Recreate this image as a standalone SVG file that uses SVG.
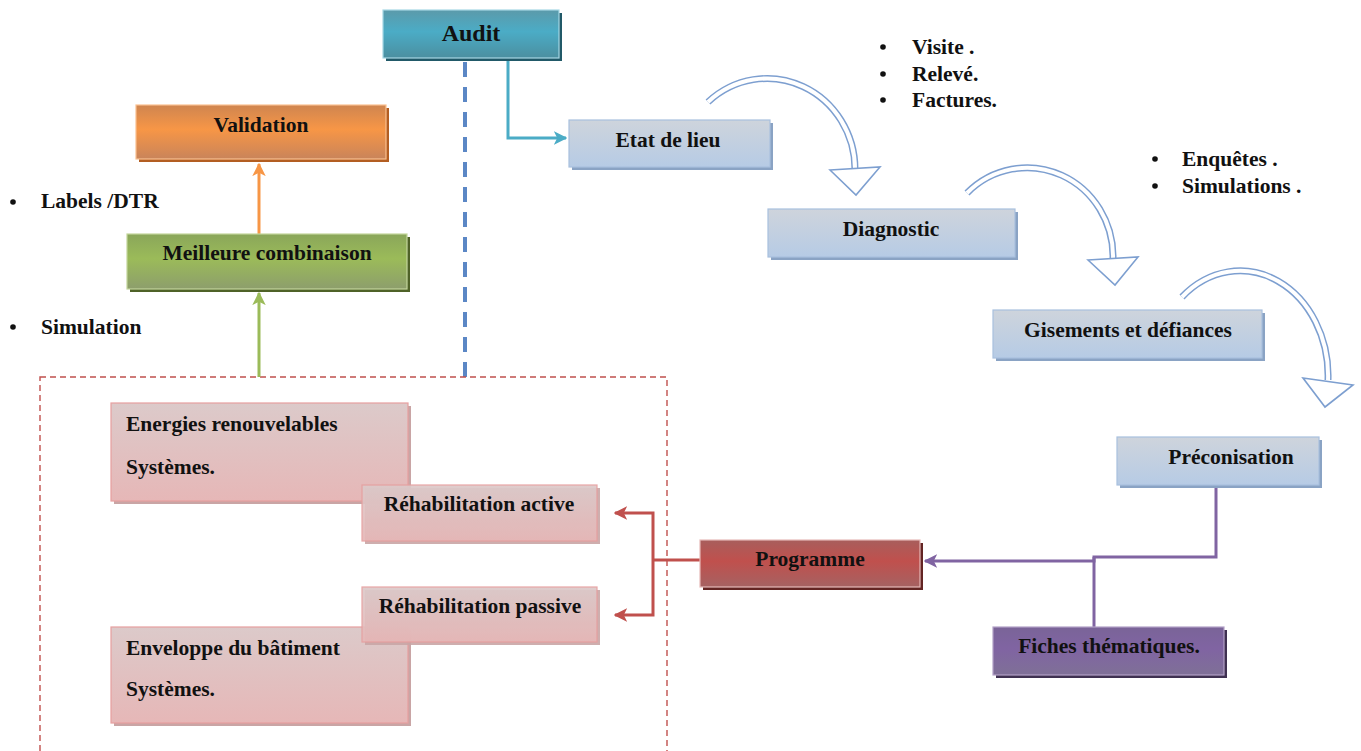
<svg xmlns="http://www.w3.org/2000/svg" width="1361" height="751" viewBox="0 0 1361 751">
<defs>
<style>
text{font-family:"Liberation Serif","Times New Roman",serif;font-weight:bold;font-size:21.5px;fill:#111}
.c{text-anchor:middle}
.arcO{fill:none;stroke:#7d9fd0;stroke-width:7}
.arcI{fill:none;stroke:#fff;stroke-width:4}
.ah{fill:#fff;stroke:#7d9fd0;stroke-width:1.6;stroke-linejoin:miter}
</style>
<linearGradient id="gTeal" x1="0" y1="0" x2="0" y2="1"><stop offset="0" stop-color="#5b9aaa"/><stop offset="0.45" stop-color="#4bacc6"/><stop offset="1" stop-color="#4b8fa0"/></linearGradient>
<linearGradient id="gBlue" x1="0" y1="0" x2="0" y2="1"><stop offset="0" stop-color="#ced4dc"/><stop offset="1" stop-color="#b6cbe5"/></linearGradient>
<linearGradient id="gOrange" x1="0" y1="0" x2="0" y2="1"><stop offset="0" stop-color="#cf8550"/><stop offset="0.45" stop-color="#f79646"/><stop offset="1" stop-color="#c9845a"/></linearGradient>
<linearGradient id="gGreen" x1="0" y1="0" x2="0" y2="1"><stop offset="0" stop-color="#8aa65a"/><stop offset="0.45" stop-color="#9bbb59"/><stop offset="1" stop-color="#8d9e6c"/></linearGradient>
<linearGradient id="gRed" x1="0" y1="0" x2="0" y2="1"><stop offset="0" stop-color="#a85e5c"/><stop offset="0.45" stop-color="#c0504d"/><stop offset="1" stop-color="#a56262"/></linearGradient>
<linearGradient id="gPurple" x1="0" y1="0" x2="0" y2="1"><stop offset="0" stop-color="#7a6498"/><stop offset="0.45" stop-color="#8064a2"/><stop offset="1" stop-color="#7f7097"/></linearGradient>
<linearGradient id="gPink" x1="0" y1="0" x2="0" y2="1"><stop offset="0" stop-color="#dccaca"/><stop offset="1" stop-color="#e6b7b7"/></linearGradient>
<marker id="mTeal" viewBox="0 0 10 10" refX="9" refY="5" markerWidth="4.5" markerHeight="4.5" orient="auto"><path d="M0,0 L10,5 L0,10 L2.5,5 z" fill="#4bacc6"/></marker>
<marker id="mOrange" viewBox="0 0 10 10" refX="9" refY="5" markerWidth="4.5" markerHeight="4.5" orient="auto"><path d="M0,0 L10,5 L0,10 L2.5,5 z" fill="#f79646"/></marker>
<marker id="mGreen" viewBox="0 0 10 10" refX="9" refY="5" markerWidth="4.5" markerHeight="4.5" orient="auto"><path d="M0,0 L10,5 L0,10 L2.5,5 z" fill="#9bbb59"/></marker>
<marker id="mRed" viewBox="0 0 10 10" refX="9" refY="5" markerWidth="4.5" markerHeight="4.5" orient="auto"><path d="M0,0 L10,5 L0,10 L2.5,5 z" fill="#c0504d"/></marker>
<marker id="mPurple" viewBox="0 0 10 10" refX="9" refY="5" markerWidth="4.5" markerHeight="4.5" orient="auto"><path d="M0,0 L10,5 L0,10 L2.5,5 z" fill="#8064a2"/></marker>
</defs>
<rect width="1361" height="751" fill="#fff"/>

<g id="connectors">
<line x1="465" y1="62" x2="465" y2="378" stroke="#5b87c5" stroke-width="4" stroke-dasharray="15 10"/>
<rect x="40" y="377" width="627" height="390" fill="none" stroke="#c0504d" stroke-width="1.4" stroke-dasharray="6 4"/>
<path d="M508,58 V138 H566" fill="none" stroke="#4bacc6" stroke-width="3" marker-end="url(#mTeal)"/>
<path d="M259,234 V164" fill="none" stroke="#f79646" stroke-width="3" marker-end="url(#mOrange)"/>
<path d="M259,377 V293" fill="none" stroke="#9bbb59" stroke-width="3" marker-end="url(#mGreen)"/>
<path d="M700,560 H653" fill="none" stroke="#c0504d" stroke-width="3"/>
<path d="M653,560 V513 H615" fill="none" stroke="#c0504d" stroke-width="3" marker-end="url(#mRed)"/>
<path d="M653,560 V615 H615" fill="none" stroke="#c0504d" stroke-width="3" marker-end="url(#mRed)"/>
<path d="M1216,487 V557 H1094 V561 H925" fill="none" stroke="#8064a2" stroke-width="3" marker-end="url(#mPurple)"/>
<path d="M1094,627 V557" fill="none" stroke="#8064a2" stroke-width="3"/>
<path class="arcO" d="M708,102 A88,91 0 0 1 855,170"/>
<path class="arcI" d="M708,102 A88,91 0 0 1 855,171"/>
<polygon class="ah" points="830,170 880,167 856,195"/>
<path class="arcO" d="M967,193 A86,89 0 0 1 1113,259"/>
<path class="arcI" d="M967,193 A86,89 0 0 1 1113,260"/>
<polygon class="ah" points="1088,260 1138,257 1115,285"/>
<path class="arcO" d="M1182,297 A88,105 0 0 1 1328,380"/>
<path class="arcI" d="M1182,297 A88,105 0 0 1 1328,381"/>
<polygon class="ah" points="1303,378 1353,385 1325,407"/>
</g>

<g id="audit">
<rect x="386" y="13" width="176" height="48" fill="#215968"/>
<rect x="383" y="10" width="176" height="48" fill="url(#gTeal)" stroke="#a6d7e4" stroke-width="1.2"/>
<text class="c" x="471" y="41" style="font-size:24px">Audit</text>
</g>

<g id="etat">
<rect x="572" y="123" width="201" height="47" fill="#8aa3c4"/>
<rect x="569" y="120" width="201" height="47" fill="url(#gBlue)" stroke="#a8c0de" stroke-width="1.2"/>
<text class="c" x="668" y="147">Etat de lieu</text>
</g>

<g id="diagnostic">
<rect x="771" y="212" width="247" height="48" fill="#8aa3c4"/>
<rect x="768" y="209" width="247" height="48" fill="url(#gBlue)" stroke="#a8c0de" stroke-width="1.2"/>
<text class="c" x="891" y="236">Diagnostic</text>
</g>

<g id="gisements">
<rect x="996" y="313" width="269" height="48" fill="#8aa3c4"/>
<rect x="993" y="310" width="269" height="48" fill="url(#gBlue)" stroke="#a8c0de" stroke-width="1.2"/>
<text class="c" x="1128" y="337">Gisements et défiances</text>
</g>

<g id="preconisation">
<rect x="1120" y="440" width="202" height="48" fill="#8aa3c4"/>
<rect x="1117" y="437" width="202" height="48" fill="url(#gBlue)" stroke="#a8c0de" stroke-width="1.2"/>
<text class="c" x="1231" y="464">Préconisation</text>
</g>

<g id="programme">
<rect x="703" y="543" width="220" height="47" fill="#632523"/>
<rect x="700" y="540" width="220" height="47" fill="url(#gRed)" stroke="#e6b9b8" stroke-width="1.2"/>
<text class="c" x="810" y="566">Programme</text>
</g>

<g id="fiches">
<rect x="996" y="630" width="231" height="48" fill="#3f3151"/>
<rect x="993" y="627" width="231" height="48" fill="url(#gPurple)" stroke="#b2a1c7" stroke-width="1.2"/>
<text class="c" x="1109" y="653">Fiches thématiques.</text>
</g>

<g id="validation">
<rect x="139" y="108" width="250" height="54" fill="#b35e22"/>
<rect x="136" y="105" width="250" height="54" fill="url(#gOrange)" stroke="#fac090" stroke-width="1.2"/>
<text class="c" x="261" y="132">Validation</text>
</g>

<g id="meilleure">
<rect x="130" y="237" width="280" height="55" fill="#4f6228"/>
<rect x="127" y="234" width="280" height="55" fill="url(#gGreen)" stroke="#c3d69b" stroke-width="1.2"/>
<text class="c" x="267" y="260">Meilleure combinaison</text>
</g>

<g id="energies">
<rect x="114" y="406" width="297" height="98" fill="#c9a5a5"/>
<rect x="111" y="403" width="297" height="98" fill="url(#gPink)" stroke="#e79f9f" stroke-width="1.2"/>
<text x="126" y="431">Energies renouvelables</text>
<text x="126" y="474">Systèmes.</text>
</g>

<g id="rehab-active">
<rect x="365" y="488" width="235" height="56" fill="#c9a5a5" opacity="0.9"/>
<rect x="362" y="485" width="235" height="56" fill="url(#gPink)" stroke="#e79f9f" stroke-width="1.2" opacity="0.93"/>
<text class="c" x="479" y="511">Réhabilitation active</text>
</g>

<g id="enveloppe">
<rect x="114" y="630" width="297" height="96" fill="#c9a5a5"/>
<rect x="111" y="627" width="297" height="96" fill="url(#gPink)" stroke="#e79f9f" stroke-width="1.2"/>
<text x="126" y="655">Enveloppe du bâtiment</text>
<text x="126" y="696">Systèmes.</text>
</g>

<g id="rehab-passive">
<rect x="365" y="590" width="235" height="55" fill="#c9a5a5" opacity="0.9"/>
<rect x="362" y="587" width="235" height="55" fill="url(#gPink)" stroke="#e79f9f" stroke-width="1.2" opacity="0.93"/>
<text class="c" x="480" y="613">Réhabilitation passive</text>
</g>

<g id="bullets-left">
<circle cx="13" cy="202" r="2.8" fill="#111"/>
<text x="41" y="208">Labels /DTR</text>
<circle cx="13" cy="327" r="2.8" fill="#111"/>
<text x="41" y="334">Simulation</text>
</g>

<g id="bullets-etat">
<circle cx="883" cy="47" r="2.8" fill="#111"/>
<text x="912" y="54">Visite .</text>
<circle cx="883" cy="74" r="2.8" fill="#111"/>
<text x="912" y="81">Relevé.</text>
<circle cx="883" cy="100" r="2.8" fill="#111"/>
<text x="912" y="107">Factures.</text>
</g>

<g id="bullets-diag">
<circle cx="1155" cy="159" r="2.8" fill="#111"/>
<text x="1182" y="166">Enquêtes .</text>
<circle cx="1155" cy="186" r="2.8" fill="#111"/>
<text x="1182" y="193">Simulations .</text>
</g>
</svg>
